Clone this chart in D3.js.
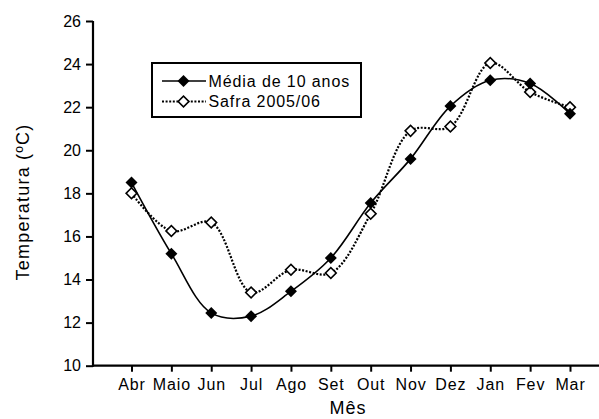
<!DOCTYPE html>
<html>
<head>
<meta charset="utf-8">
<script src="https://cdn.jsdelivr.net/npm/d3@7"></script>
<style>
  html, body { margin: 0; padding: 0; background: #fff; }
  svg { display: block; }
  text { font-family: "Liberation Sans", Arial, Helvetica, sans-serif; fill: #000; }
</style>
</head>
<body>
<svg id="chart" width="599" height="419"></svg>
<script>
const months = ["Abr","Maio","Jun","Jul","Ago","Set","Out","Nov","Dez","Jan","Fev","Mar"];
const media10 = [18.5, 15.2, 12.45, 12.3, 13.45, 15.0, 17.55, 19.6, 22.05, 23.25, 23.1, 21.7];
const safra = [18.0, 16.25, 16.65, 13.4, 14.45, 14.3, 17.05, 20.9, 21.1, 24.05, 22.7, 22.0];
const yTicks = [10, 12, 14, 16, 18, 20, 22, 24, 26];
const seriesNames = ["Média de 10 anos", "Safra 2005/06"];

const svg = d3.select("#chart");
const W = 599, H = 419;
const mLeft = 93, mTop = 21, mBottom = 365.7;

const x = d3.scalePoint().domain(months).range([131.5, 570]);
const y = d3.scaleLinear().domain([10, 26]).range([mBottom, mTop]);

// Axes
const yAxis = svg.append("g").attr("transform", `translate(${mLeft},0)`)
  .call(d3.axisLeft(y).tickValues(yTicks).tickSize(7).tickPadding(5).tickSizeOuter(0));
yAxis.select(".domain").remove();
yAxis.selectAll(".tick line").attr("stroke", "#000").attr("stroke-width", 2);
yAxis.selectAll(".tick text").attr("font-size", 16).attr("font-family", '"Liberation Sans", Arial, sans-serif');

const xAxis = svg.append("g").attr("transform", `translate(0,${mBottom})`)
  .call(d3.axisBottom(x).tickSize(6).tickPadding(7).tickSizeOuter(0));
xAxis.select(".domain").remove();
xAxis.selectAll(".tick line").attr("stroke", "#000").attr("stroke-width", 2);
xAxis.selectAll(".tick text").attr("font-size", 16).attr("letter-spacing", "0.9px")
  .attr("font-family", '"Liberation Sans", Arial, sans-serif');

// axis lines
svg.append("line").attr("x1", mLeft).attr("x2", mLeft).attr("y1", y(26)).attr("y2", mBottom + 1)
  .attr("stroke", "#000").attr("stroke-width", 2.2);
svg.append("line").attr("x1", mLeft - 1).attr("x2", W).attr("y1", mBottom).attr("y2", mBottom)
  .attr("stroke", "#000").attr("stroke-width", 2.2);

// Axis titles
svg.append("text").attr("transform", `translate(29,202) rotate(-90)`)
  .attr("text-anchor", "middle").attr("font-size", 18).attr("letter-spacing", "1.2px")
  .text("Temperatura (ºC)");
svg.append("text").attr("x", 348).attr("y", 414).attr("text-anchor", "middle")
  .attr("font-size", 18).attr("letter-spacing", "1px").text("Mês");

const line = d3.line().x((d, i) => x(months[i])).y(d => y(d)).curve(d3.curveCatmullRom.alpha(0.5));

const diamond = (area) => d3.symbol().type(d3.symbolSquare).size(area)();

// Safra (dotted, open diamonds)
svg.append("path").datum(safra).attr("d", line).attr("fill", "none")
  .attr("stroke", "#000").attr("stroke-width", 2.2).attr("stroke-dasharray", "2,1.6");
// Media (solid)
svg.append("path").datum(media10).attr("d", line).attr("fill", "none")
  .attr("stroke", "#000").attr("stroke-width", 1.6);

svg.append("g").selectAll("path").data(safra).join("path")
  .attr("d", diamond(58))
  .attr("transform", (d, i) => `translate(${x(months[i])},${y(d)}) rotate(45)`)
  .attr("fill", "#fff").attr("stroke", "#000").attr("stroke-width", 1.6);

svg.append("g").selectAll("path").data(media10).join("path")
  .attr("d", diamond(72))
  .attr("transform", (d, i) => `translate(${x(months[i])},${y(d)}) rotate(45)`)
  .attr("fill", "#000");

// Legend
const lg = svg.append("g");
lg.append("rect").attr("x", 152).attr("y", 63).attr("width", 209).attr("height", 54)
  .attr("fill", "#fff").attr("stroke", "#000").attr("stroke-width", 2);
const rows = [81, 101.5];
lg.append("line").attr("x1", 162).attr("x2", 206).attr("y1", rows[0]).attr("y2", rows[0])
  .attr("stroke", "#000").attr("stroke-width", 1.6);
lg.append("path").attr("d", diamond(72)).attr("transform", `translate(183.5,${rows[0]}) rotate(45)`).attr("fill", "#000");
lg.append("line").attr("x1", 162).attr("x2", 206).attr("y1", rows[1]).attr("y2", rows[1])
  .attr("stroke", "#000").attr("stroke-width", 2.2).attr("stroke-dasharray", "2,1.6");
lg.append("path").attr("d", diamond(58)).attr("transform", `translate(183.5,${rows[1]}) rotate(45)`)
  .attr("fill", "#fff").attr("stroke", "#000").attr("stroke-width", 1.6);
lg.selectAll("text.lt").data(seriesNames).join("text").attr("class", "lt")
  .attr("x", 208.5).attr("y", (d, i) => rows[i]).attr("dy", "0.36em")
  .attr("font-size", 16).attr("letter-spacing", "0.9px").text(d => d);
</script>
</body>
</html>
